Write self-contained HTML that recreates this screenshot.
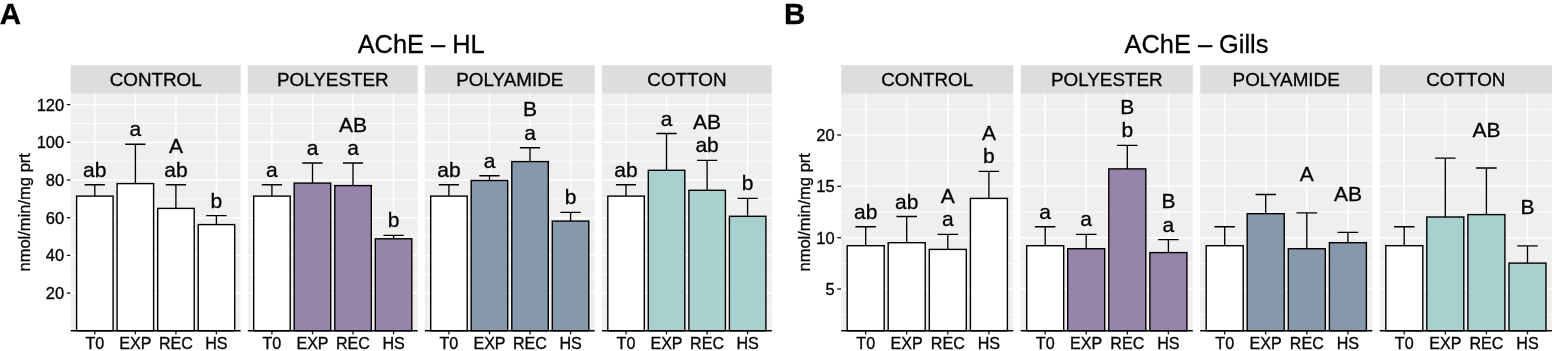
<!DOCTYPE html>
<html lang="en"><head><meta charset="utf-8"><title>AChE activity</title>
<style>html,body{margin:0;padding:0;background:#fff}svg{display:block}</style></head>
<body>
<svg width="1552" height="351" viewBox="0 0 1552 351" font-family='"Liberation Sans", Arial, Helvetica, sans-serif' fill="#000" stroke="#000" stroke-width="0.3">
<rect width="1552" height="351" fill="#fff" stroke="none"/>
<text x="-0.3" y="24" font-size="29.5" font-weight="bold">A</text>
<text x="421.2" y="52.5" font-size="25.4" text-anchor="middle">AChE – HL</text>
<text transform="translate(29.8,212.3) rotate(-90)" font-size="16.55" text-anchor="middle">nmol/min/mg prt</text>
<text x="64.2" y="299.1" font-size="16.5" text-anchor="end">20</text>
<line x1="66.8" x2="70.7" y1="293.1" y2="293.1" stroke="#111" stroke-width="1.3"/>
<text x="64.2" y="261.4" font-size="16.5" text-anchor="end">40</text>
<line x1="66.8" x2="70.7" y1="255.4" y2="255.4" stroke="#111" stroke-width="1.3"/>
<text x="64.2" y="223.7" font-size="16.5" text-anchor="end">60</text>
<line x1="66.8" x2="70.7" y1="217.7" y2="217.7" stroke="#111" stroke-width="1.3"/>
<text x="64.2" y="186.0" font-size="16.5" text-anchor="end">80</text>
<line x1="66.8" x2="70.7" y1="180.0" y2="180.0" stroke="#111" stroke-width="1.3"/>
<text x="64.2" y="148.3" font-size="16.5" text-anchor="end">100</text>
<line x1="66.8" x2="70.7" y1="142.3" y2="142.3" stroke="#111" stroke-width="1.3"/>
<text x="64.2" y="110.6" font-size="16.5" text-anchor="end">120</text>
<line x1="66.8" x2="70.7" y1="104.6" y2="104.6" stroke="#111" stroke-width="1.3"/>
<rect x="70.7" y="65.2" width="169.9" height="28.6" fill="#DDDDDD" stroke="none"/>
<rect x="70.7" y="93.8" width="169.9" height="237.0" fill="#EFEFEF" stroke="none"/>
<text x="155.7" y="86.3" font-size="18.85" text-anchor="middle">CONTROL</text>
<line x1="70.7" x2="240.6" y1="311.9" y2="311.9" stroke="#fff" stroke-width="0.8"/>
<line x1="70.7" x2="240.6" y1="274.2" y2="274.2" stroke="#fff" stroke-width="0.8"/>
<line x1="70.7" x2="240.6" y1="236.6" y2="236.6" stroke="#fff" stroke-width="0.8"/>
<line x1="70.7" x2="240.6" y1="198.9" y2="198.9" stroke="#fff" stroke-width="0.8"/>
<line x1="70.7" x2="240.6" y1="161.2" y2="161.2" stroke="#fff" stroke-width="0.8"/>
<line x1="70.7" x2="240.6" y1="123.5" y2="123.5" stroke="#fff" stroke-width="0.8"/>
<line x1="70.7" x2="240.6" y1="293.1" y2="293.1" stroke="#fff" stroke-width="1.5"/>
<line x1="70.7" x2="240.6" y1="255.4" y2="255.4" stroke="#fff" stroke-width="1.5"/>
<line x1="70.7" x2="240.6" y1="217.7" y2="217.7" stroke="#fff" stroke-width="1.5"/>
<line x1="70.7" x2="240.6" y1="180.0" y2="180.0" stroke="#fff" stroke-width="1.5"/>
<line x1="70.7" x2="240.6" y1="142.3" y2="142.3" stroke="#fff" stroke-width="1.5"/>
<line x1="70.7" x2="240.6" y1="104.6" y2="104.6" stroke="#fff" stroke-width="1.5"/>
<line x1="94.8" x2="94.8" y1="93.8" y2="330.8" stroke="#fff" stroke-width="1.5"/>
<line x1="135.4" x2="135.4" y1="93.8" y2="330.8" stroke="#fff" stroke-width="1.5"/>
<line x1="175.9" x2="175.9" y1="93.8" y2="330.8" stroke="#fff" stroke-width="1.5"/>
<line x1="216.4" x2="216.4" y1="93.8" y2="330.8" stroke="#fff" stroke-width="1.5"/>
<path d="M84.7 184.7H104.9M94.8 184.7V196.1" stroke="#000" stroke-width="1.35" fill="none"/>
<rect x="76.6" y="196.1" width="36.5" height="134.7" fill="#FFFFFF" stroke="#000" stroke-width="1.4"/>
<text x="94.8" y="176.7" font-size="21" text-anchor="middle">ab</text>
<path d="M125.2 144.2H145.5M135.4 144.2V183.6" stroke="#000" stroke-width="1.35" fill="none"/>
<rect x="117.1" y="183.6" width="36.5" height="147.2" fill="#FFFFFF" stroke="#000" stroke-width="1.4"/>
<text x="135.4" y="136.2" font-size="21" text-anchor="middle">a</text>
<path d="M165.8 184.7H186.0M175.9 184.7V208.4" stroke="#000" stroke-width="1.35" fill="none"/>
<rect x="157.7" y="208.4" width="36.5" height="122.4" fill="#FFFFFF" stroke="#000" stroke-width="1.4"/>
<text x="175.9" y="176.7" font-size="21" text-anchor="middle">ab</text>
<text x="175.9" y="153.2" font-size="21" text-anchor="middle">A</text>
<path d="M206.3 215.6H226.6M216.4 215.6V224.6" stroke="#000" stroke-width="1.35" fill="none"/>
<rect x="198.2" y="224.6" width="36.5" height="106.2" fill="#FFFFFF" stroke="#000" stroke-width="1.4"/>
<text x="216.4" y="207.6" font-size="21" text-anchor="middle">b</text>
<line x1="70.7" x2="240.6" y1="330.8" y2="330.8" stroke="#000" stroke-width="1.4"/>
<line x1="94.8" x2="94.8" y1="330.8" y2="334.4" stroke="#111" stroke-width="1.3"/>
<text x="94.8" y="348.6" font-size="16.1" text-anchor="middle">T0</text>
<line x1="135.4" x2="135.4" y1="330.8" y2="334.4" stroke="#111" stroke-width="1.3"/>
<text x="135.4" y="348.6" font-size="16.1" text-anchor="middle">EXP</text>
<line x1="175.9" x2="175.9" y1="330.8" y2="334.4" stroke="#111" stroke-width="1.3"/>
<text x="175.9" y="348.6" font-size="16.1" text-anchor="middle">REC</text>
<line x1="216.4" x2="216.4" y1="330.8" y2="334.4" stroke="#111" stroke-width="1.3"/>
<text x="216.4" y="348.6" font-size="16.1" text-anchor="middle">HS</text>
<rect x="247.8" y="65.2" width="169.9" height="28.6" fill="#DDDDDD" stroke="none"/>
<rect x="247.8" y="93.8" width="169.9" height="237.0" fill="#EFEFEF" stroke="none"/>
<text x="332.8" y="86.3" font-size="18.85" text-anchor="middle">POLYESTER</text>
<line x1="247.8" x2="417.7" y1="311.9" y2="311.9" stroke="#fff" stroke-width="0.8"/>
<line x1="247.8" x2="417.7" y1="274.2" y2="274.2" stroke="#fff" stroke-width="0.8"/>
<line x1="247.8" x2="417.7" y1="236.6" y2="236.6" stroke="#fff" stroke-width="0.8"/>
<line x1="247.8" x2="417.7" y1="198.9" y2="198.9" stroke="#fff" stroke-width="0.8"/>
<line x1="247.8" x2="417.7" y1="161.2" y2="161.2" stroke="#fff" stroke-width="0.8"/>
<line x1="247.8" x2="417.7" y1="123.5" y2="123.5" stroke="#fff" stroke-width="0.8"/>
<line x1="247.8" x2="417.7" y1="293.1" y2="293.1" stroke="#fff" stroke-width="1.5"/>
<line x1="247.8" x2="417.7" y1="255.4" y2="255.4" stroke="#fff" stroke-width="1.5"/>
<line x1="247.8" x2="417.7" y1="217.7" y2="217.7" stroke="#fff" stroke-width="1.5"/>
<line x1="247.8" x2="417.7" y1="180.0" y2="180.0" stroke="#fff" stroke-width="1.5"/>
<line x1="247.8" x2="417.7" y1="142.3" y2="142.3" stroke="#fff" stroke-width="1.5"/>
<line x1="247.8" x2="417.7" y1="104.6" y2="104.6" stroke="#fff" stroke-width="1.5"/>
<line x1="271.9" x2="271.9" y1="93.8" y2="330.8" stroke="#fff" stroke-width="1.5"/>
<line x1="312.5" x2="312.5" y1="93.8" y2="330.8" stroke="#fff" stroke-width="1.5"/>
<line x1="353.0" x2="353.0" y1="93.8" y2="330.8" stroke="#fff" stroke-width="1.5"/>
<line x1="393.6" x2="393.6" y1="93.8" y2="330.8" stroke="#fff" stroke-width="1.5"/>
<path d="M261.8 184.7H282.0M271.9 184.7V196.1" stroke="#000" stroke-width="1.35" fill="none"/>
<rect x="253.7" y="196.1" width="36.5" height="134.7" fill="#FFFFFF" stroke="#000" stroke-width="1.4"/>
<text x="271.9" y="176.7" font-size="21" text-anchor="middle">a</text>
<path d="M302.3 163.0H322.6M312.5 163.0V183.1" stroke="#000" stroke-width="1.35" fill="none"/>
<rect x="294.2" y="183.1" width="36.5" height="147.7" fill="#9684AA" stroke="#000" stroke-width="1.4"/>
<text x="312.5" y="155.0" font-size="21" text-anchor="middle">a</text>
<path d="M342.9 163.0H363.1M353.0 163.0V185.6" stroke="#000" stroke-width="1.35" fill="none"/>
<rect x="334.8" y="185.6" width="36.5" height="145.2" fill="#9684AA" stroke="#000" stroke-width="1.4"/>
<text x="353.0" y="155.0" font-size="21" text-anchor="middle">a</text>
<text x="353.0" y="131.5" font-size="21" text-anchor="middle">AB</text>
<path d="M383.4 235.3H403.7M393.6 235.3V238.8" stroke="#000" stroke-width="1.35" fill="none"/>
<rect x="375.3" y="238.8" width="36.5" height="92.0" fill="#9684AA" stroke="#000" stroke-width="1.4"/>
<text x="393.6" y="227.3" font-size="21" text-anchor="middle">b</text>
<line x1="247.8" x2="417.7" y1="330.8" y2="330.8" stroke="#000" stroke-width="1.4"/>
<line x1="271.9" x2="271.9" y1="330.8" y2="334.4" stroke="#111" stroke-width="1.3"/>
<text x="271.9" y="348.6" font-size="16.1" text-anchor="middle">T0</text>
<line x1="312.5" x2="312.5" y1="330.8" y2="334.4" stroke="#111" stroke-width="1.3"/>
<text x="312.5" y="348.6" font-size="16.1" text-anchor="middle">EXP</text>
<line x1="353.0" x2="353.0" y1="330.8" y2="334.4" stroke="#111" stroke-width="1.3"/>
<text x="353.0" y="348.6" font-size="16.1" text-anchor="middle">REC</text>
<line x1="393.6" x2="393.6" y1="330.8" y2="334.4" stroke="#111" stroke-width="1.3"/>
<text x="393.6" y="348.6" font-size="16.1" text-anchor="middle">HS</text>
<rect x="424.8" y="65.2" width="169.9" height="28.6" fill="#DDDDDD" stroke="none"/>
<rect x="424.8" y="93.8" width="169.9" height="237.0" fill="#EFEFEF" stroke="none"/>
<text x="509.8" y="86.3" font-size="18.85" text-anchor="middle">POLYAMIDE</text>
<line x1="424.8" x2="594.7" y1="311.9" y2="311.9" stroke="#fff" stroke-width="0.8"/>
<line x1="424.8" x2="594.7" y1="274.2" y2="274.2" stroke="#fff" stroke-width="0.8"/>
<line x1="424.8" x2="594.7" y1="236.6" y2="236.6" stroke="#fff" stroke-width="0.8"/>
<line x1="424.8" x2="594.7" y1="198.9" y2="198.9" stroke="#fff" stroke-width="0.8"/>
<line x1="424.8" x2="594.7" y1="161.2" y2="161.2" stroke="#fff" stroke-width="0.8"/>
<line x1="424.8" x2="594.7" y1="123.5" y2="123.5" stroke="#fff" stroke-width="0.8"/>
<line x1="424.8" x2="594.7" y1="293.1" y2="293.1" stroke="#fff" stroke-width="1.5"/>
<line x1="424.8" x2="594.7" y1="255.4" y2="255.4" stroke="#fff" stroke-width="1.5"/>
<line x1="424.8" x2="594.7" y1="217.7" y2="217.7" stroke="#fff" stroke-width="1.5"/>
<line x1="424.8" x2="594.7" y1="180.0" y2="180.0" stroke="#fff" stroke-width="1.5"/>
<line x1="424.8" x2="594.7" y1="142.3" y2="142.3" stroke="#fff" stroke-width="1.5"/>
<line x1="424.8" x2="594.7" y1="104.6" y2="104.6" stroke="#fff" stroke-width="1.5"/>
<line x1="448.9" x2="448.9" y1="93.8" y2="330.8" stroke="#fff" stroke-width="1.5"/>
<line x1="489.5" x2="489.5" y1="93.8" y2="330.8" stroke="#fff" stroke-width="1.5"/>
<line x1="530.0" x2="530.0" y1="93.8" y2="330.8" stroke="#fff" stroke-width="1.5"/>
<line x1="570.6" x2="570.6" y1="93.8" y2="330.8" stroke="#fff" stroke-width="1.5"/>
<path d="M438.8 184.7H459.0M448.9 184.7V196.1" stroke="#000" stroke-width="1.35" fill="none"/>
<rect x="430.7" y="196.1" width="36.5" height="134.7" fill="#FFFFFF" stroke="#000" stroke-width="1.4"/>
<text x="448.9" y="176.7" font-size="21" text-anchor="middle">ab</text>
<path d="M479.3 175.7H499.6M489.5 175.7V180.5" stroke="#000" stroke-width="1.35" fill="none"/>
<rect x="471.2" y="180.5" width="36.5" height="150.3" fill="#8898AB" stroke="#000" stroke-width="1.4"/>
<text x="489.5" y="167.7" font-size="21" text-anchor="middle">a</text>
<path d="M519.9 147.7H540.1M530.0 147.7V161.6" stroke="#000" stroke-width="1.35" fill="none"/>
<rect x="511.8" y="161.6" width="36.5" height="169.2" fill="#8898AB" stroke="#000" stroke-width="1.4"/>
<text x="530.0" y="139.7" font-size="21" text-anchor="middle">a</text>
<text x="530.0" y="116.2" font-size="21" text-anchor="middle">B</text>
<path d="M560.4 212.3H580.7M570.6 212.3V221.1" stroke="#000" stroke-width="1.35" fill="none"/>
<rect x="552.3" y="221.1" width="36.5" height="109.7" fill="#8898AB" stroke="#000" stroke-width="1.4"/>
<text x="570.6" y="204.3" font-size="21" text-anchor="middle">b</text>
<line x1="424.8" x2="594.7" y1="330.8" y2="330.8" stroke="#000" stroke-width="1.4"/>
<line x1="448.9" x2="448.9" y1="330.8" y2="334.4" stroke="#111" stroke-width="1.3"/>
<text x="448.9" y="348.6" font-size="16.1" text-anchor="middle">T0</text>
<line x1="489.5" x2="489.5" y1="330.8" y2="334.4" stroke="#111" stroke-width="1.3"/>
<text x="489.5" y="348.6" font-size="16.1" text-anchor="middle">EXP</text>
<line x1="530.0" x2="530.0" y1="330.8" y2="334.4" stroke="#111" stroke-width="1.3"/>
<text x="530.0" y="348.6" font-size="16.1" text-anchor="middle">REC</text>
<line x1="570.6" x2="570.6" y1="330.8" y2="334.4" stroke="#111" stroke-width="1.3"/>
<text x="570.6" y="348.6" font-size="16.1" text-anchor="middle">HS</text>
<rect x="601.9" y="65.2" width="169.9" height="28.6" fill="#DDDDDD" stroke="none"/>
<rect x="601.9" y="93.8" width="169.9" height="237.0" fill="#EFEFEF" stroke="none"/>
<text x="686.9" y="86.3" font-size="18.85" text-anchor="middle">COTTON</text>
<line x1="601.9" x2="771.8" y1="311.9" y2="311.9" stroke="#fff" stroke-width="0.8"/>
<line x1="601.9" x2="771.8" y1="274.2" y2="274.2" stroke="#fff" stroke-width="0.8"/>
<line x1="601.9" x2="771.8" y1="236.6" y2="236.6" stroke="#fff" stroke-width="0.8"/>
<line x1="601.9" x2="771.8" y1="198.9" y2="198.9" stroke="#fff" stroke-width="0.8"/>
<line x1="601.9" x2="771.8" y1="161.2" y2="161.2" stroke="#fff" stroke-width="0.8"/>
<line x1="601.9" x2="771.8" y1="123.5" y2="123.5" stroke="#fff" stroke-width="0.8"/>
<line x1="601.9" x2="771.8" y1="293.1" y2="293.1" stroke="#fff" stroke-width="1.5"/>
<line x1="601.9" x2="771.8" y1="255.4" y2="255.4" stroke="#fff" stroke-width="1.5"/>
<line x1="601.9" x2="771.8" y1="217.7" y2="217.7" stroke="#fff" stroke-width="1.5"/>
<line x1="601.9" x2="771.8" y1="180.0" y2="180.0" stroke="#fff" stroke-width="1.5"/>
<line x1="601.9" x2="771.8" y1="142.3" y2="142.3" stroke="#fff" stroke-width="1.5"/>
<line x1="601.9" x2="771.8" y1="104.6" y2="104.6" stroke="#fff" stroke-width="1.5"/>
<line x1="626.0" x2="626.0" y1="93.8" y2="330.8" stroke="#fff" stroke-width="1.5"/>
<line x1="666.5" x2="666.5" y1="93.8" y2="330.8" stroke="#fff" stroke-width="1.5"/>
<line x1="707.1" x2="707.1" y1="93.8" y2="330.8" stroke="#fff" stroke-width="1.5"/>
<line x1="747.6" x2="747.6" y1="93.8" y2="330.8" stroke="#fff" stroke-width="1.5"/>
<path d="M615.9 184.7H636.1M626.0 184.7V196.1" stroke="#000" stroke-width="1.35" fill="none"/>
<rect x="607.8" y="196.1" width="36.5" height="134.7" fill="#FFFFFF" stroke="#000" stroke-width="1.4"/>
<text x="626.0" y="176.7" font-size="21" text-anchor="middle">ab</text>
<path d="M656.4 133.5H676.7M666.5 133.5V170.3" stroke="#000" stroke-width="1.35" fill="none"/>
<rect x="648.3" y="170.3" width="36.5" height="160.5" fill="#A8D0CE" stroke="#000" stroke-width="1.4"/>
<text x="666.5" y="125.5" font-size="21" text-anchor="middle">a</text>
<path d="M697.0 160.4H717.2M707.1 160.4V190.3" stroke="#000" stroke-width="1.35" fill="none"/>
<rect x="688.9" y="190.3" width="36.5" height="140.5" fill="#A8D0CE" stroke="#000" stroke-width="1.4"/>
<text x="707.1" y="152.4" font-size="21" text-anchor="middle">ab</text>
<text x="707.1" y="128.9" font-size="21" text-anchor="middle">AB</text>
<path d="M737.5 198.4H757.8M747.6 198.4V216.3" stroke="#000" stroke-width="1.35" fill="none"/>
<rect x="729.4" y="216.3" width="36.5" height="114.5" fill="#A8D0CE" stroke="#000" stroke-width="1.4"/>
<text x="747.6" y="190.4" font-size="21" text-anchor="middle">b</text>
<line x1="601.9" x2="771.8" y1="330.8" y2="330.8" stroke="#000" stroke-width="1.4"/>
<line x1="626.0" x2="626.0" y1="330.8" y2="334.4" stroke="#111" stroke-width="1.3"/>
<text x="626.0" y="348.6" font-size="16.1" text-anchor="middle">T0</text>
<line x1="666.5" x2="666.5" y1="330.8" y2="334.4" stroke="#111" stroke-width="1.3"/>
<text x="666.5" y="348.6" font-size="16.1" text-anchor="middle">EXP</text>
<line x1="707.1" x2="707.1" y1="330.8" y2="334.4" stroke="#111" stroke-width="1.3"/>
<text x="707.1" y="348.6" font-size="16.1" text-anchor="middle">REC</text>
<line x1="747.6" x2="747.6" y1="330.8" y2="334.4" stroke="#111" stroke-width="1.3"/>
<text x="747.6" y="348.6" font-size="16.1" text-anchor="middle">HS</text>
<text x="784.0" y="24" font-size="29.5" font-weight="bold">B</text>
<text x="1196.5" y="52.5" font-size="25.4" text-anchor="middle">AChE – Gills</text>
<text transform="translate(809.8,212.3) rotate(-90)" font-size="16.55" text-anchor="middle">nmol/min/mg prt</text>
<text x="834.7" y="295.0" font-size="16.5" text-anchor="end">5</text>
<line x1="837.3" x2="841.2" y1="289.0" y2="289.0" stroke="#111" stroke-width="1.3"/>
<text x="834.7" y="243.7" font-size="16.5" text-anchor="end">10</text>
<line x1="837.3" x2="841.2" y1="237.7" y2="237.7" stroke="#111" stroke-width="1.3"/>
<text x="834.7" y="192.3" font-size="16.5" text-anchor="end">15</text>
<line x1="837.3" x2="841.2" y1="186.3" y2="186.3" stroke="#111" stroke-width="1.3"/>
<text x="834.7" y="141.0" font-size="16.5" text-anchor="end">20</text>
<line x1="837.3" x2="841.2" y1="135.0" y2="135.0" stroke="#111" stroke-width="1.3"/>
<rect x="841.2" y="65.2" width="172.1" height="28.6" fill="#DDDDDD" stroke="none"/>
<rect x="841.2" y="93.8" width="172.1" height="237.0" fill="#EFEFEF" stroke="none"/>
<text x="927.2" y="86.3" font-size="18.85" text-anchor="middle">CONTROL</text>
<line x1="841.2" x2="1013.3" y1="314.7" y2="314.7" stroke="#fff" stroke-width="0.8"/>
<line x1="841.2" x2="1013.3" y1="263.4" y2="263.4" stroke="#fff" stroke-width="0.8"/>
<line x1="841.2" x2="1013.3" y1="212.0" y2="212.0" stroke="#fff" stroke-width="0.8"/>
<line x1="841.2" x2="1013.3" y1="160.7" y2="160.7" stroke="#fff" stroke-width="0.8"/>
<line x1="841.2" x2="1013.3" y1="109.3" y2="109.3" stroke="#fff" stroke-width="0.8"/>
<line x1="841.2" x2="1013.3" y1="289.0" y2="289.0" stroke="#fff" stroke-width="1.5"/>
<line x1="841.2" x2="1013.3" y1="237.7" y2="237.7" stroke="#fff" stroke-width="1.5"/>
<line x1="841.2" x2="1013.3" y1="186.3" y2="186.3" stroke="#fff" stroke-width="1.5"/>
<line x1="841.2" x2="1013.3" y1="135.0" y2="135.0" stroke="#fff" stroke-width="1.5"/>
<line x1="865.7" x2="865.7" y1="93.8" y2="330.8" stroke="#fff" stroke-width="1.5"/>
<line x1="906.7" x2="906.7" y1="93.8" y2="330.8" stroke="#fff" stroke-width="1.5"/>
<line x1="947.8" x2="947.8" y1="93.8" y2="330.8" stroke="#fff" stroke-width="1.5"/>
<line x1="988.9" x2="988.9" y1="93.8" y2="330.8" stroke="#fff" stroke-width="1.5"/>
<path d="M855.4 226.7H875.9M865.7 226.7V245.7" stroke="#000" stroke-width="1.35" fill="none"/>
<rect x="847.2" y="245.7" width="37.0" height="85.1" fill="#FFFFFF" stroke="#000" stroke-width="1.4"/>
<text x="865.7" y="218.7" font-size="21" text-anchor="middle">ab</text>
<path d="M896.5 216.5H917.0M906.7 216.5V242.7" stroke="#000" stroke-width="1.35" fill="none"/>
<rect x="888.2" y="242.7" width="37.0" height="88.1" fill="#FFFFFF" stroke="#000" stroke-width="1.4"/>
<text x="906.7" y="208.5" font-size="21" text-anchor="middle">ab</text>
<path d="M937.5 234.4H958.1M947.8 234.4V249.4" stroke="#000" stroke-width="1.35" fill="none"/>
<rect x="929.3" y="249.4" width="37.0" height="81.4" fill="#FFFFFF" stroke="#000" stroke-width="1.4"/>
<text x="947.8" y="226.4" font-size="21" text-anchor="middle">a</text>
<text x="947.8" y="202.9" font-size="21" text-anchor="middle">A</text>
<path d="M978.6 171.4H999.1M988.9 171.4V198.4" stroke="#000" stroke-width="1.35" fill="none"/>
<rect x="970.4" y="198.4" width="37.0" height="132.4" fill="#FFFFFF" stroke="#000" stroke-width="1.4"/>
<text x="988.9" y="163.4" font-size="21" text-anchor="middle">b</text>
<text x="988.9" y="139.9" font-size="21" text-anchor="middle">A</text>
<line x1="841.2" x2="1013.3" y1="330.8" y2="330.8" stroke="#000" stroke-width="1.4"/>
<line x1="865.7" x2="865.7" y1="330.8" y2="334.4" stroke="#111" stroke-width="1.3"/>
<text x="865.7" y="348.6" font-size="16.1" text-anchor="middle">T0</text>
<line x1="906.7" x2="906.7" y1="330.8" y2="334.4" stroke="#111" stroke-width="1.3"/>
<text x="906.7" y="348.6" font-size="16.1" text-anchor="middle">EXP</text>
<line x1="947.8" x2="947.8" y1="330.8" y2="334.4" stroke="#111" stroke-width="1.3"/>
<text x="947.8" y="348.6" font-size="16.1" text-anchor="middle">REC</text>
<line x1="988.9" x2="988.9" y1="330.8" y2="334.4" stroke="#111" stroke-width="1.3"/>
<text x="988.9" y="348.6" font-size="16.1" text-anchor="middle">HS</text>
<rect x="1020.7" y="65.2" width="172.1" height="28.6" fill="#DDDDDD" stroke="none"/>
<rect x="1020.7" y="93.8" width="172.1" height="237.0" fill="#EFEFEF" stroke="none"/>
<text x="1106.8" y="86.3" font-size="18.85" text-anchor="middle">POLYESTER</text>
<line x1="1020.7" x2="1192.8" y1="314.7" y2="314.7" stroke="#fff" stroke-width="0.8"/>
<line x1="1020.7" x2="1192.8" y1="263.4" y2="263.4" stroke="#fff" stroke-width="0.8"/>
<line x1="1020.7" x2="1192.8" y1="212.0" y2="212.0" stroke="#fff" stroke-width="0.8"/>
<line x1="1020.7" x2="1192.8" y1="160.7" y2="160.7" stroke="#fff" stroke-width="0.8"/>
<line x1="1020.7" x2="1192.8" y1="109.3" y2="109.3" stroke="#fff" stroke-width="0.8"/>
<line x1="1020.7" x2="1192.8" y1="289.0" y2="289.0" stroke="#fff" stroke-width="1.5"/>
<line x1="1020.7" x2="1192.8" y1="237.7" y2="237.7" stroke="#fff" stroke-width="1.5"/>
<line x1="1020.7" x2="1192.8" y1="186.3" y2="186.3" stroke="#fff" stroke-width="1.5"/>
<line x1="1020.7" x2="1192.8" y1="135.0" y2="135.0" stroke="#fff" stroke-width="1.5"/>
<line x1="1045.2" x2="1045.2" y1="93.8" y2="330.8" stroke="#fff" stroke-width="1.5"/>
<line x1="1086.2" x2="1086.2" y1="93.8" y2="330.8" stroke="#fff" stroke-width="1.5"/>
<line x1="1127.3" x2="1127.3" y1="93.8" y2="330.8" stroke="#fff" stroke-width="1.5"/>
<line x1="1168.4" x2="1168.4" y1="93.8" y2="330.8" stroke="#fff" stroke-width="1.5"/>
<path d="M1034.9 226.7H1055.4M1045.2 226.7V245.7" stroke="#000" stroke-width="1.35" fill="none"/>
<rect x="1026.7" y="245.7" width="37.0" height="85.1" fill="#FFFFFF" stroke="#000" stroke-width="1.4"/>
<text x="1045.2" y="218.7" font-size="21" text-anchor="middle">a</text>
<path d="M1076.0 234.4H1096.5M1086.2 234.4V248.7" stroke="#000" stroke-width="1.35" fill="none"/>
<rect x="1067.7" y="248.7" width="37.0" height="82.1" fill="#9684AA" stroke="#000" stroke-width="1.4"/>
<text x="1086.2" y="226.4" font-size="21" text-anchor="middle">a</text>
<path d="M1117.0 145.3H1137.6M1127.3 145.3V168.9" stroke="#000" stroke-width="1.35" fill="none"/>
<rect x="1108.8" y="168.9" width="37.0" height="161.9" fill="#9684AA" stroke="#000" stroke-width="1.4"/>
<text x="1127.3" y="137.3" font-size="21" text-anchor="middle">b</text>
<text x="1127.3" y="113.8" font-size="21" text-anchor="middle">B</text>
<path d="M1158.1 239.6H1178.6M1168.4 239.6V252.6" stroke="#000" stroke-width="1.35" fill="none"/>
<rect x="1149.9" y="252.6" width="37.0" height="78.2" fill="#9684AA" stroke="#000" stroke-width="1.4"/>
<text x="1168.4" y="231.6" font-size="21" text-anchor="middle">a</text>
<text x="1168.4" y="208.1" font-size="21" text-anchor="middle">B</text>
<line x1="1020.7" x2="1192.8" y1="330.8" y2="330.8" stroke="#000" stroke-width="1.4"/>
<line x1="1045.2" x2="1045.2" y1="330.8" y2="334.4" stroke="#111" stroke-width="1.3"/>
<text x="1045.2" y="348.6" font-size="16.1" text-anchor="middle">T0</text>
<line x1="1086.2" x2="1086.2" y1="330.8" y2="334.4" stroke="#111" stroke-width="1.3"/>
<text x="1086.2" y="348.6" font-size="16.1" text-anchor="middle">EXP</text>
<line x1="1127.3" x2="1127.3" y1="330.8" y2="334.4" stroke="#111" stroke-width="1.3"/>
<text x="1127.3" y="348.6" font-size="16.1" text-anchor="middle">REC</text>
<line x1="1168.4" x2="1168.4" y1="330.8" y2="334.4" stroke="#111" stroke-width="1.3"/>
<text x="1168.4" y="348.6" font-size="16.1" text-anchor="middle">HS</text>
<rect x="1200.2" y="65.2" width="172.1" height="28.6" fill="#DDDDDD" stroke="none"/>
<rect x="1200.2" y="93.8" width="172.1" height="237.0" fill="#EFEFEF" stroke="none"/>
<text x="1286.2" y="86.3" font-size="18.85" text-anchor="middle">POLYAMIDE</text>
<line x1="1200.2" x2="1372.3" y1="314.7" y2="314.7" stroke="#fff" stroke-width="0.8"/>
<line x1="1200.2" x2="1372.3" y1="263.4" y2="263.4" stroke="#fff" stroke-width="0.8"/>
<line x1="1200.2" x2="1372.3" y1="212.0" y2="212.0" stroke="#fff" stroke-width="0.8"/>
<line x1="1200.2" x2="1372.3" y1="160.7" y2="160.7" stroke="#fff" stroke-width="0.8"/>
<line x1="1200.2" x2="1372.3" y1="109.3" y2="109.3" stroke="#fff" stroke-width="0.8"/>
<line x1="1200.2" x2="1372.3" y1="289.0" y2="289.0" stroke="#fff" stroke-width="1.5"/>
<line x1="1200.2" x2="1372.3" y1="237.7" y2="237.7" stroke="#fff" stroke-width="1.5"/>
<line x1="1200.2" x2="1372.3" y1="186.3" y2="186.3" stroke="#fff" stroke-width="1.5"/>
<line x1="1200.2" x2="1372.3" y1="135.0" y2="135.0" stroke="#fff" stroke-width="1.5"/>
<line x1="1224.7" x2="1224.7" y1="93.8" y2="330.8" stroke="#fff" stroke-width="1.5"/>
<line x1="1265.7" x2="1265.7" y1="93.8" y2="330.8" stroke="#fff" stroke-width="1.5"/>
<line x1="1306.8" x2="1306.8" y1="93.8" y2="330.8" stroke="#fff" stroke-width="1.5"/>
<line x1="1347.9" x2="1347.9" y1="93.8" y2="330.8" stroke="#fff" stroke-width="1.5"/>
<path d="M1214.4 226.7H1234.9M1224.7 226.7V245.7" stroke="#000" stroke-width="1.35" fill="none"/>
<rect x="1206.2" y="245.7" width="37.0" height="85.1" fill="#FFFFFF" stroke="#000" stroke-width="1.4"/>
<path d="M1255.5 194.5H1276.0M1265.7 194.5V213.7" stroke="#000" stroke-width="1.35" fill="none"/>
<rect x="1247.2" y="213.7" width="37.0" height="117.1" fill="#8898AB" stroke="#000" stroke-width="1.4"/>
<path d="M1296.5 212.8H1317.1M1306.8 212.8V248.7" stroke="#000" stroke-width="1.35" fill="none"/>
<rect x="1288.3" y="248.7" width="37.0" height="82.1" fill="#8898AB" stroke="#000" stroke-width="1.4"/>
<text x="1306.8" y="181.3" font-size="21" text-anchor="middle">A</text>
<path d="M1337.6 232.3H1358.1M1347.9 232.3V242.7" stroke="#000" stroke-width="1.35" fill="none"/>
<rect x="1329.4" y="242.7" width="37.0" height="88.1" fill="#8898AB" stroke="#000" stroke-width="1.4"/>
<text x="1347.9" y="200.8" font-size="21" text-anchor="middle">AB</text>
<line x1="1200.2" x2="1372.3" y1="330.8" y2="330.8" stroke="#000" stroke-width="1.4"/>
<line x1="1224.7" x2="1224.7" y1="330.8" y2="334.4" stroke="#111" stroke-width="1.3"/>
<text x="1224.7" y="348.6" font-size="16.1" text-anchor="middle">T0</text>
<line x1="1265.7" x2="1265.7" y1="330.8" y2="334.4" stroke="#111" stroke-width="1.3"/>
<text x="1265.7" y="348.6" font-size="16.1" text-anchor="middle">EXP</text>
<line x1="1306.8" x2="1306.8" y1="330.8" y2="334.4" stroke="#111" stroke-width="1.3"/>
<text x="1306.8" y="348.6" font-size="16.1" text-anchor="middle">REC</text>
<line x1="1347.9" x2="1347.9" y1="330.8" y2="334.4" stroke="#111" stroke-width="1.3"/>
<text x="1347.9" y="348.6" font-size="16.1" text-anchor="middle">HS</text>
<rect x="1379.8" y="65.2" width="172.1" height="28.6" fill="#DDDDDD" stroke="none"/>
<rect x="1379.8" y="93.8" width="172.1" height="237.0" fill="#EFEFEF" stroke="none"/>
<text x="1465.8" y="86.3" font-size="18.85" text-anchor="middle">COTTON</text>
<line x1="1379.8" x2="1551.9" y1="314.7" y2="314.7" stroke="#fff" stroke-width="0.8"/>
<line x1="1379.8" x2="1551.9" y1="263.4" y2="263.4" stroke="#fff" stroke-width="0.8"/>
<line x1="1379.8" x2="1551.9" y1="212.0" y2="212.0" stroke="#fff" stroke-width="0.8"/>
<line x1="1379.8" x2="1551.9" y1="160.7" y2="160.7" stroke="#fff" stroke-width="0.8"/>
<line x1="1379.8" x2="1551.9" y1="109.3" y2="109.3" stroke="#fff" stroke-width="0.8"/>
<line x1="1379.8" x2="1551.9" y1="289.0" y2="289.0" stroke="#fff" stroke-width="1.5"/>
<line x1="1379.8" x2="1551.9" y1="237.7" y2="237.7" stroke="#fff" stroke-width="1.5"/>
<line x1="1379.8" x2="1551.9" y1="186.3" y2="186.3" stroke="#fff" stroke-width="1.5"/>
<line x1="1379.8" x2="1551.9" y1="135.0" y2="135.0" stroke="#fff" stroke-width="1.5"/>
<line x1="1404.2" x2="1404.2" y1="93.8" y2="330.8" stroke="#fff" stroke-width="1.5"/>
<line x1="1445.3" x2="1445.3" y1="93.8" y2="330.8" stroke="#fff" stroke-width="1.5"/>
<line x1="1486.4" x2="1486.4" y1="93.8" y2="330.8" stroke="#fff" stroke-width="1.5"/>
<line x1="1527.5" x2="1527.5" y1="93.8" y2="330.8" stroke="#fff" stroke-width="1.5"/>
<path d="M1394.0 226.7H1414.5M1404.2 226.7V245.7" stroke="#000" stroke-width="1.35" fill="none"/>
<rect x="1385.8" y="245.7" width="37.0" height="85.1" fill="#FFFFFF" stroke="#000" stroke-width="1.4"/>
<path d="M1435.1 158.1H1455.6M1445.3 158.1V217.0" stroke="#000" stroke-width="1.35" fill="none"/>
<rect x="1426.8" y="217.0" width="37.0" height="113.8" fill="#A8D0CE" stroke="#000" stroke-width="1.4"/>
<path d="M1476.1 168.0H1496.7M1486.4 168.0V214.6" stroke="#000" stroke-width="1.35" fill="none"/>
<rect x="1467.9" y="214.6" width="37.0" height="116.2" fill="#A8D0CE" stroke="#000" stroke-width="1.4"/>
<text x="1486.4" y="136.5" font-size="21" text-anchor="middle">AB</text>
<path d="M1517.2 245.8H1537.7M1527.5 245.8V263.1" stroke="#000" stroke-width="1.35" fill="none"/>
<rect x="1509.0" y="263.1" width="37.0" height="67.7" fill="#A8D0CE" stroke="#000" stroke-width="1.4"/>
<text x="1527.5" y="214.3" font-size="21" text-anchor="middle">B</text>
<line x1="1379.8" x2="1551.9" y1="330.8" y2="330.8" stroke="#000" stroke-width="1.4"/>
<line x1="1404.2" x2="1404.2" y1="330.8" y2="334.4" stroke="#111" stroke-width="1.3"/>
<text x="1404.2" y="348.6" font-size="16.1" text-anchor="middle">T0</text>
<line x1="1445.3" x2="1445.3" y1="330.8" y2="334.4" stroke="#111" stroke-width="1.3"/>
<text x="1445.3" y="348.6" font-size="16.1" text-anchor="middle">EXP</text>
<line x1="1486.4" x2="1486.4" y1="330.8" y2="334.4" stroke="#111" stroke-width="1.3"/>
<text x="1486.4" y="348.6" font-size="16.1" text-anchor="middle">REC</text>
<line x1="1527.5" x2="1527.5" y1="330.8" y2="334.4" stroke="#111" stroke-width="1.3"/>
<text x="1527.5" y="348.6" font-size="16.1" text-anchor="middle">HS</text>
</svg>
</body></html>
